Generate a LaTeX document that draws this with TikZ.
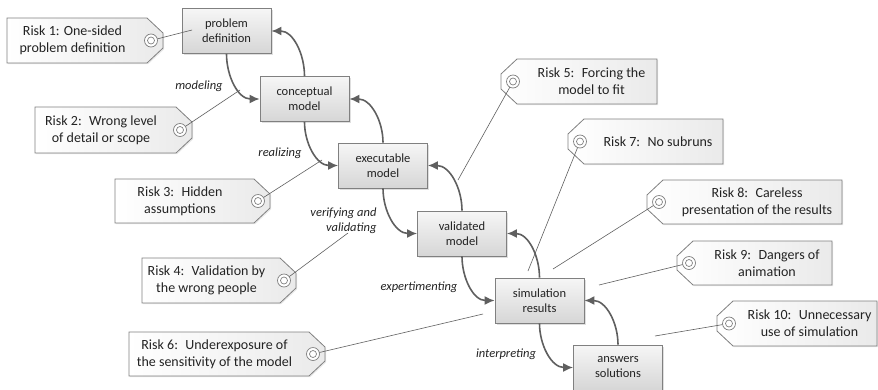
\documentclass[tikz,border=0pt]{standalone}
\usepackage{fontspec}
\setmainfont{Carlito}
\usetikzlibrary{arrows.meta,shadows}

\definecolor{boxline}{RGB}{128,128,128}
\definecolor{arrowgray}{RGB}{95,95,95}
\definecolor{textgray}{RGB}{35,35,35}
\definecolor{boxtop}{RGB}{246,246,246}
\definecolor{boxbottom}{RGB}{214,214,214}
\definecolor{tagright}{RGB}{234,234,234}

\tikzset{
  process/.style={draw=boxline, line width=0.8pt, top color=boxtop, bottom color=boxbottom,
    minimum width=89pt, minimum height=45pt, align=center, text=textgray,
    font=\fontsize{12.5}{15}\selectfont,
    drop shadow={shadow xshift=1.5pt, shadow yshift=-1.5pt, opacity=0.25}},
  flow/.style={draw=arrowgray, line width=1.6pt, -{Latex[length=10pt,width=9pt]}},
  steplabel/.style={font=\fontsize{12.5}{15}\selectfont\itshape, text=textgray},
  tagbody/.style={draw=boxline, line width=0.8pt, left color=white, right color=tagright,
    drop shadow={shadow xshift=1.2pt, shadow yshift=-1.2pt, opacity=0.18}},
  tagtext/.style={align=center, text=textgray, font=\fontsize{14}{17}\selectfont},
  riskline/.style={draw=arrowgray, line width=0.6pt},
  eyelet/.style={draw=boxline, line width=0.7pt}
}

% tag with its chamfered end on the right: name, left x, right x, top y, bottom y, text
\newcommand{\tagR}[6]{%
  \path[tagbody] (#2,-#4) -- (#3-16,-#4) -- (#3,-#4-15) -- (#3,-#5+15)
    -- (#3-16,-#5) -- (#2,-#5) -- cycle;
  \node[tagtext] (#1) at ({(#2+#3-25)/2},{-(#4+#5)/2}) {#6};
  \coordinate (#1-eye) at (#3-12,{-(#4+#5)/2});
}
% tag with its chamfered end on the left
\newcommand{\tagL}[6]{%
  \path[tagbody] (#3,-#4) -- (#2+16,-#4) -- (#2,-#4-15) -- (#2,-#5+15)
    -- (#2+16,-#5) -- (#3,-#5) -- cycle;
  \node[tagtext] (#1) at ({(#2+25+#3)/2},{-(#4+#5)/2}) {#6};
  \coordinate (#1-eye) at (#2+12,{-(#4+#5)/2});
}
% eyelet ring drawn over the end of a risk line
\newcommand{\ring}[1]{%
  \filldraw[eyelet, fill=white] (#1) circle (6.5);
  \draw[eyelet] (#1) circle (3.5);
}

\begin{document}
\begin{tikzpicture}[x=1pt,y=1pt]
\useasboundingbox (0,0) rectangle (878,-389);

% modelling steps
\node[process] (pd) at (226.5,-31)   {problem\\definition};
\node[process] (cm) at (304.5,-99)   {conceptual\\model};
\node[process] (em) at (383,-165.5)  {executable\\model};
\node[process] (vm) at (462,-233.5)  {validated\\model};
\node[process] (sr) at (539.5,-300.5){simulation\\results};
\node[process] (as) at (618,-367.5)  {answers\\solutions};

% forward and feedback arrows
\foreach \a/\b in {pd/cm, cm/em, em/vm, vm/sr, sr/as}{
  \draw[flow] (\a.south) to[out=-90,in=180] (\b.west);
  \draw[flow] (\b.north) to[out=90,in=0] (\a.east);
}

% step labels
\node[steplabel] (l1) at (199,-86)   {modeling};
\node[steplabel] (l2) at (280,-153)  {realizing};
\node[steplabel, align=right, anchor=east] (l3) at (380,-220.5) {verifying and\\validating};
\node[steplabel] (l4) at (419,-287)  {expertimenting};
\node[steplabel] (l5) at (506,-354)  {interpreting};

% risk tags
\tagR{r1}{7}{163}{18}{63}{Risk 1: One-sided\\problem definition}
\tagR{r2}{35}{192}{107}{153}{Risk 2:~ Wrong level\\of detail or scope}
\tagR{r3}{115}{270}{179}{223}{Risk 3:~ Hidden\\assumptions}
\tagR{r4}{142}{296}{258}{303}{Risk 4:~ Validation by\\the wrong people}
\tagR{r6}{129}{325}{332}{376}{Risk 6:~ Underexposure of\\the sensitivity of the model}
\tagL{r5}{501}{657}{59}{104}{Risk 5:~ Forcing the\\model to fit}
\tagL{r7}{568}{723}{119}{164}{Risk 7:~ No subruns}
\tagL{r8}{647}{842}{180}{224}{Risk 8:~ Careless\\presentation of the results}
\tagL{r9}{677}{832}{241}{285}{Risk 9:~ Dangers of\\animation}
\tagL{r10}{717}{877}{301}{346}{Risk 10:~ Unnecessary\\use of simulation}

% free ends of the risk lines
\coordinate (e1) at (192,-30);
\coordinate (e2) at (240,-90);
\coordinate (e3) at (322,-160);
\coordinate (e4) at (348,-233);
\coordinate (e5) at (458,-180);
\coordinate (e6) at (483,-314);
\coordinate (e7) at (528,-271);
\coordinate (e8) at (553,-269);
\coordinate (e9) at (599,-285);
\coordinate (e10) at (655,-336);

\foreach \i in {1,...,10}{
  \draw[riskline] (r\i-eye) -- (e\i);
  \ring{r\i-eye}
}
\end{tikzpicture}
\end{document}
